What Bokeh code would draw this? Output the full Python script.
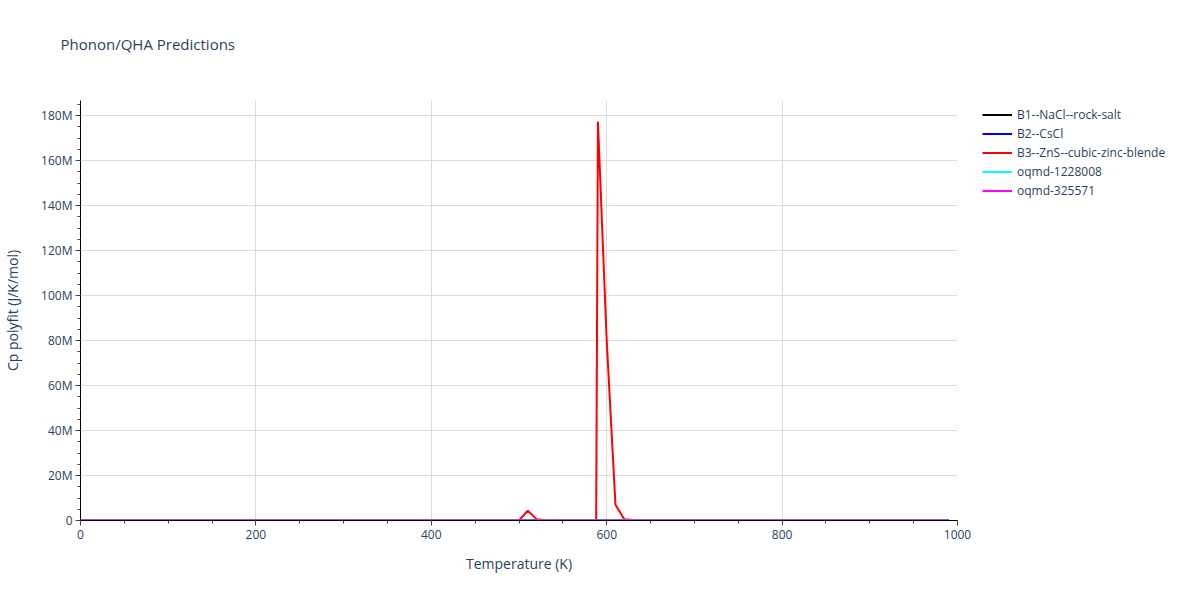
from bokeh.plotting import figure
from bokeh.models import Range1d, FixedTicker, CustomJSTickFormatter, Legend, LegendItem, Title
from bokeh.embed import file_html
from bokeh.resources import INLINE

# ---- data ----
series_names = ["B1--NaCl--rock-salt", "B2--CsCl", "B3--ZnS--cubic-zinc-blende",
                "oqmd-1228008", "oqmd-325571"]
series_colors = ["black", "blue", "red", "cyan", "magenta"]

flat_temps = [0, 50, 100, 150, 200, 250, 300, 350, 400, 450, 500, 550, 600,
              650, 700, 750, 800, 850, 900, 950, 990]
b1_cp = [0, 30, 42, 46, 48, 49, 49, 50, 50, 50, 51, 51, 51, 51, 52, 52, 52, 52, 53, 53, 53]
b2_cp = [0, 28, 41, 45, 47, 48, 49, 49, 50, 50, 50, 51, 51, 51, 51, 52, 52, 52, 52, 53, 53]
oq1_cp = [0, 29, 41, 46, 48, 49, 49, 50, 50, 50, 51, 51, 51, 51, 52, 52, 52, 52, 53, 53, 53]
oq2_cp = [0, 27, 40, 45, 47, 48, 49, 49, 50, 50, 50, 51, 51, 51, 51, 52, 52, 52, 52, 53, 53]

b3_temps = [0, 100, 200, 300, 400, 500, 510, 520, 530, 540, 580, 588, 590, 600,
            610, 620, 630, 640, 700, 800, 900, 990]
b3_cp = [0, 45, 48, 49, 50, 0, 4.4e6, 0.6e6, 0.2e6, 0, 0, 0, 177.3e6, 80e6,
         7.0e6, 0.6e6, 0.2e6, 0, 0, 0, 0, 0]

x_major = [0, 200, 400, 600, 800, 1000]
x_minor = list(range(0, 1001, 50))
y_major = [0, 20e6, 40e6, 60e6, 80e6, 100e6, 120e6, 140e6, 160e6, 180e6]
y_minor = [i * 5e6 for i in range(0, 38)]

FONT = "Open Sans"
TXT = "#2a3f5f"

p = figure(frame_width=877, frame_height=420, output_backend="svg", toolbar_location=None,
           x_range=Range1d(0, 1000), y_range=Range1d(0, 186.7e6),
           min_border_left=72, min_border_top=100, min_border_bottom=60, min_border_right=228,
           background_fill_color="white", border_fill_color="white")
p.outline_line_color = None

p.title.text = "Phonon/QHA Predictions"
p.title.text_font = FONT
p.title.text_font_size = "15px"
p.title.text_font_style = "normal"
p.title.text_color = TXT
p.title.offset = -20
p.title.standoff = 0

# blank spacer title between the main title and the frame
spacer = Title(text=" ", text_font_size="12px", standoff=31)
p.add_layout(spacer, "above")

# axes
for ax in (p.xaxis[0], p.yaxis[0]):
    ax.axis_line_color = "black"
    ax.axis_line_width = 1
    ax.major_tick_line_color = "#444444"
    ax.minor_tick_line_color = "#444444"
    ax.major_tick_out = 5
    ax.major_tick_in = 0
    ax.minor_tick_out = 3
    ax.minor_tick_in = 0
    ax.major_label_text_font = FONT
    ax.major_label_text_font_size = "12px"
    ax.major_label_text_color = TXT
    ax.axis_label_text_font = FONT
    ax.axis_label_text_font_size = "14px"
    ax.axis_label_text_font_style = "normal"
    ax.axis_label_text_color = TXT

p.xaxis.ticker = FixedTicker(ticks=x_major, minor_ticks=x_minor)
p.yaxis.ticker = FixedTicker(ticks=y_major, minor_ticks=y_minor)
p.yaxis.formatter = CustomJSTickFormatter(code="return tick == 0 ? '0' : (tick/1e6).toFixed(0) + 'M';")
p.xaxis.axis_label = "Temperature (K)"
p.yaxis.axis_label = "Cp polyfit (J/K/mol)"
p.xaxis.axis_label_standoff = 12
p.yaxis.axis_label_standoff = 16
p.xaxis.major_label_standoff = 4
p.yaxis.major_label_standoff = 3

p.xgrid.grid_line_color = "#dcdcdc"
p.ygrid.grid_line_color = "#dcdcdc"
p.xgrid.ticker = FixedTicker(ticks=x_major)
p.ygrid.ticker = FixedTicker(ticks=y_major)

# lines
r1 = p.line(flat_temps, b1_cp, line_color=series_colors[0], line_width=2)
r2 = p.line(flat_temps, b2_cp, line_color=series_colors[1], line_width=2)
r3 = p.line(b3_temps, b3_cp, line_color=series_colors[2], line_width=2)
r4 = p.line(flat_temps, oq1_cp, line_color=series_colors[3], line_width=2)
r5 = p.line(flat_temps, oq2_cp, line_color=series_colors[4], line_width=2)

legend = Legend(items=[LegendItem(label=n, renderers=[r]) for n, r in
                       zip(series_names, [r1, r2, r3, r4, r5])],
                location=(25, 320))
legend.border_line_color = None
legend.background_fill_alpha = 0
legend.label_text_font = FONT
legend.label_text_font_size = "12px"
legend.label_text_color = TXT
legend.glyph_width = 30
legend.glyph_height = 19
legend.label_height = 19
legend.spacing = 0
legend.padding = 0
legend.margin = 0
legend.label_standoff = 5
p.add_layout(legend, "right")

open("out.html", "w").write(file_html(p, INLINE))
